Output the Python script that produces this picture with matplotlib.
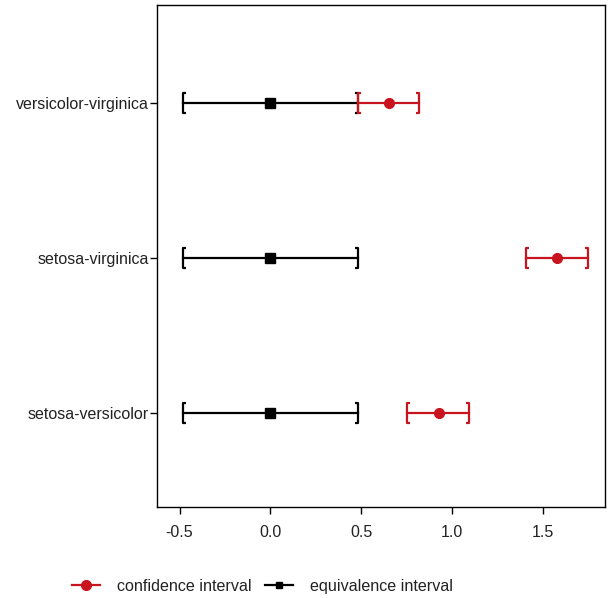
import numpy as np
import matplotlib.pyplot as plt
from matplotlib.path import Path

plt.rcParams['font.family'] = ['Liberation Sans', 'DejaVu Sans']

# comparisons (bottom to top)
labels = ["setosa-versicolor", "setosa-virginica", "versicolor-virginica"]
ci_est = [0.928, 1.58, 0.653]
ci_low = [0.752, 1.41, 0.484]
ci_high = [1.094, 1.749, 0.818]
eq_low = -0.481
eq_high = 0.482
eq_center = 0.0

red = '#c8141e'
txt = '#222222'
ypos = np.arange(1, len(labels) + 1)

# bracket-shaped caps
lbr = Path([(0.35, -1), (0, -1), (0, 1), (0.35, 1)], [Path.MOVETO, Path.LINETO, Path.LINETO, Path.LINETO])
rbr = Path([(-0.35, -1), (0, -1), (0, 1), (-0.35, 1)], [Path.MOVETO, Path.LINETO, Path.LINETO, Path.LINETO])

fig = plt.figure(figsize=(6.14, 5.98), dpi=100)
ax = fig.add_axes([0.2557, 0.152, 0.7293, 0.8396])

for y, est, lo, hi in zip(ypos, ci_est, ci_low, ci_high):
    # equivalence interval
    ax.plot([eq_low, eq_high], [y, y], color='black', lw=1.6, zorder=2)
    ax.plot([eq_low], [y], marker=lbr, ms=14, mew=1.6, mec='black', mfc='none', ls='none', zorder=2)
    ax.plot([eq_high], [y], marker=rbr, ms=14, mew=1.6, mec='black', mfc='none', ls='none', zorder=2)
    ax.plot([eq_center], [y], marker='s', ms=6.5, color='black', ls='none', zorder=3)
    # confidence interval
    ax.plot([lo, hi], [y, y], color=red, lw=1.6, zorder=3)
    ax.plot([lo], [y], marker=lbr, ms=14, mew=1.6, mec=red, mfc='none', ls='none', zorder=3)
    ax.plot([hi], [y], marker=rbr, ms=14, mew=1.6, mec=red, mfc='none', ls='none', zorder=3)
    ax.plot([est], [y], marker='o', ms=7, color=red, ls='none', zorder=4)

ax.set_xlim(-0.624, 1.841)
ax.set_ylim(0.39, 3.63)
ax.set_yticks(ypos)
ax.set_yticklabels(labels, fontsize=11.5, color=txt)
ax.set_xticks([-0.5, 0.0, 0.5, 1.0, 1.5])
ax.set_xticklabels(['-0.5', '0.0', '0.5', '1.0', '1.5'], fontsize=11.5, color=txt)
ax.tick_params(axis='y', direction='out', length=5, width=1, pad=1)
ax.tick_params(axis='x', direction='out', length=5, width=1, pad=8)
for s in ax.spines.values():
    s.set_linewidth(1)

h1, = ax.plot([], [], color=red, marker='o', ms=7, lw=1.6)
h2, = ax.plot([], [], color='black', marker='s', ms=5, lw=1.6)
fig.legend([h1, h2], ['confidence interval', 'equivalence interval'], loc='center',
           bbox_to_anchor=(0.4275, 0.02), ncol=2, frameon=False, fontsize=11.6,
           handlelength=1.75, columnspacing=0.8, handletextpad=1.05, labelcolor=txt)

fig.savefig('out.png', dpi=100)
